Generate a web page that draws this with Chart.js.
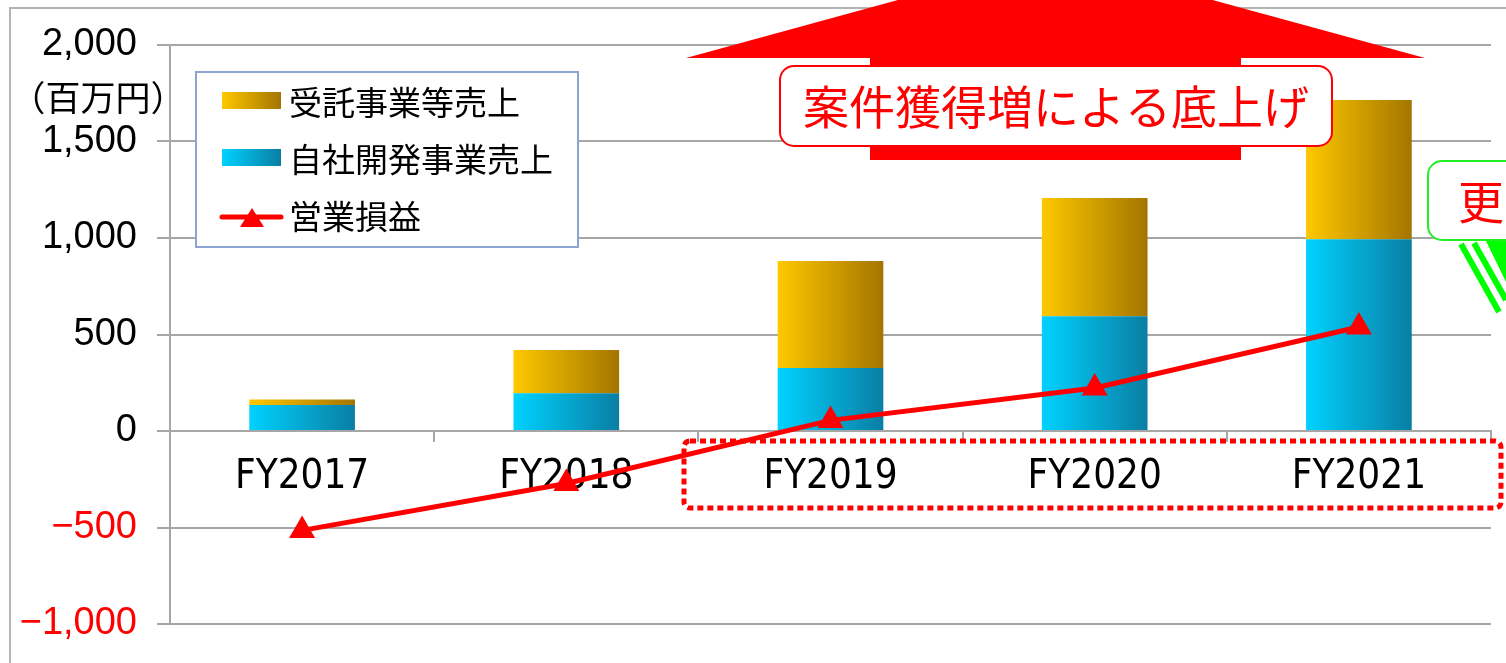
<!DOCTYPE html>
<html>
<head>
<meta charset="utf-8">
<script src="https://cdn.jsdelivr.net/npm/chart.js@4.4.1/dist/chart.umd.min.js"></script>
<style>
  html, body { margin: 0; padding: 0; background: #fff; }
  canvas { display: block; }
</style>
</head>
<body>
<canvas id="salesChart" width="1506" height="663"></canvas>
<script>
const years = ["FY2017", "FY2018", "FY2019", "FY2020", "FY2021"];
const inHouseSales = [135, 195, 326, 595, 993];      // 自社開発事業売上
const contractSales = [28, 225, 555, 612, 722];      // 受託事業等売上
const operatingProfit = [-515, -272, 55, 223, 539];  // 営業損益
const yTicks = [-1000, -500, 0, 500, 1000, 1500, 2000];

const GOLD = ["#ffc800", "#a37500"];
const CYAN = ["#00d2ff", "#0a7ea3"];
const JP = '"Noto Sans CJK JP", "Noto Sans", sans-serif';

function barGradient(colors) {
    return function (ctx) {
        const chart = ctx.chart;
        if (!chart.chartArea || ctx.dataIndex === undefined) return colors[0];
        const x = chart.scales.x.getPixelForValue(ctx.dataIndex);
        const w = chart.scales.x.width / years.length * 0.4;
        const g = chart.ctx.createLinearGradient(x - w / 2, 0, x + w / 2, 0);
        g.addColorStop(0, colors[0]);
        g.addColorStop(1, colors[1]);
        return g;
    };
}

function formatTick(value) {
    return (value < 0 ? "\u2212" : "") + Math.abs(value).toLocaleString("en-US");
}

// legend, unit label and the slide annotations around the chart
const decorations = {
    id: "decorations",
    afterDraw(chart) {
        const c = chart.ctx;
        c.save();

        // outer frame
        c.strokeStyle = "#b4b4b4";
        c.lineWidth = 2;
        c.strokeRect(10, 8, 1600, 700);

        // unit label
        c.fillStyle = "#000";
        c.font = "35px " + JP;
        c.textAlign = "center";
        c.textBaseline = "middle";
        c.fillText("（百万円）", 98, 98);

        // legend box
        c.fillStyle = "#fff";
        c.fillRect(196, 72, 382, 175);
        c.strokeStyle = "#8aa6d0";
        c.lineWidth = 2;
        c.strokeRect(196, 72, 382, 175);

        const ds = chart.data.datasets;
        const items = [ds[2], ds[1], ds[0]];
        const rows = [102, 159, 216];
        c.font = "33px " + JP;
        c.textAlign = "left";
        items.forEach(function (d, i) {
            const y = rows[i];
            if (d.type === "line") {
                c.strokeStyle = "#ff0000";
                c.lineWidth = 5;
                c.lineCap = "round";
                c.beginPath();
                c.moveTo(222, y + 1);
                c.lineTo(281, y + 1);
                c.stroke();
                c.fillStyle = "#ff0000";
                c.beginPath();
                c.moveTo(252, y - 8);
                c.lineTo(264, y + 11);
                c.lineTo(240, y + 11);
                c.closePath();
                c.fill();
            } else {
                const cols = d.label === "受託事業等売上" ? GOLD : CYAN;
                const g = c.createLinearGradient(222, 0, 281, 0);
                g.addColorStop(0, cols[0]);
                g.addColorStop(1, cols[1]);
                c.fillStyle = g;
                c.fillRect(222, y - 10, 59, 17);
            }
            c.fillStyle = "#000";
            c.fillText(d.label, 289, y);
        });

        // big red up arrow
        c.fillStyle = "#ff0000";
        c.beginPath();
        c.moveTo(686, 58);
        c.lineTo(1055, -43);
        c.lineTo(1425, 58);
        c.lineTo(1241, 58);
        c.lineTo(1241, 160);
        c.lineTo(870, 160);
        c.lineTo(870, 58);
        c.closePath();
        c.fill();

        c.fillStyle = "#fff";
        c.strokeStyle = "#ff0000";
        c.lineWidth = 2;
        c.beginPath();
        c.roundRect(780, 66, 552, 80, 14);
        c.fill();
        c.stroke();
        c.fillStyle = "#ff0000";
        c.font = "46px " + JP;
        c.textAlign = "center";
        c.fillText("案件獲得増による底上げ", 1056, 107);

        // green callout on the right edge
        c.fillStyle = "#fff";
        c.strokeStyle = "#22ee22";
        c.lineWidth = 2;
        c.beginPath();
        c.roundRect(1428, 161, 140, 79, 14);
        c.fill();
        c.stroke();
        c.fillStyle = "#ff0000";
        c.font = "46px " + JP;
        c.textAlign = "left";
        c.fillText("更", 1458, 202);

        c.strokeStyle = "#00ff00";
        c.lineWidth = 6;
        c.lineCap = "butt";
        c.beginPath();
        c.moveTo(1461, 244);
        c.lineTo(1499, 312);
        c.moveTo(1474, 243);
        c.lineTo(1506, 300);
        c.stroke();
        c.fillStyle = "#00ff00";
        c.beginPath();
        c.moveTo(1486, 241);
        c.lineTo(1506, 241);
        c.lineTo(1506, 282);
        c.closePath();
        c.fill();

        // dotted highlight around FY2019-FY2021
        c.strokeStyle = "#ff0000";
        c.lineWidth = 5;
        c.setLineDash([6, 4]);
        c.beginPath();
        c.roundRect(684, 441, 817, 67, 6);
        c.stroke();
        c.setLineDash([]);

        c.restore();
    }
};

const ctx = document.getElementById("salesChart");

new Chart(ctx, {
    data: {
        labels: years,
        datasets: [
            {
                type: "line",
                label: "営業損益",
                data: operatingProfit,
                stack: "profit",
                order: 0,
                borderColor: "#ff0000",
                borderWidth: 5,
                pointStyle: "triangle",
                pointRadius: 15,
                pointBackgroundColor: "#ff0000",
                pointBorderWidth: 0,
                tension: 0
            },
            {
                type: "bar",
                label: "自社開発事業売上",
                data: inHouseSales,
                stack: "sales",
                order: 1,
                backgroundColor: barGradient(CYAN),
                borderWidth: 0,
                categoryPercentage: 1,
                barPercentage: 0.4
            },
            {
                type: "bar",
                label: "受託事業等売上",
                data: contractSales,
                stack: "sales",
                order: 1,
                backgroundColor: barGradient(GOLD),
                borderWidth: 0,
                categoryPercentage: 1,
                barPercentage: 0.4
            }
        ]
    },
    options: {
        responsive: false,
        animation: false,
        devicePixelRatio: 1,
        layout: { padding: { left: 0, right: 6, top: 45, bottom: 39 } },
        plugins: {
            legend: { display: false },
            tooltip: { enabled: false }
        },
        scales: {
            x: {
                stacked: true,
                position: { y: 0 },
                grid: {
                    offset: true,
                    drawOnChartArea: false,
                    drawTicks: true,
                    tickLength: 10,
                    color: "#a6a6a6",
                    lineWidth: 2
                },
                border: { color: "#a6a6a6", width: 2 },
                ticks: {
                    color: "#000",
                    padding: 13,
                    font: { family: '"DejaVu Sans Condensed", "Liberation Sans", sans-serif', size: 40 }
                }
            },
            y: {
                stacked: true,
                min: yTicks[0],
                max: yTicks[yTicks.length - 1],
                afterFit: function (scale) { scale.width = 170; },
                ticks: {
                    stepSize: yTicks[1] - yTicks[0],
                    padding: 20,
                    callback: formatTick,
                    color: function (c) { return c.tick && c.tick.value < 0 ? "#ff0000" : "#000"; },
                    font: { family: '"Liberation Sans", Arial, sans-serif', size: 38, lineHeight: 1 }
                },
                grid: {
                    color: "#a6a6a6",
                    lineWidth: 2,
                    tickLength: 13
                },
                border: { color: "#a6a6a6", width: 2 }
            }
        }
    },
    plugins: [decorations]
});
</script>
</body>
</html>
